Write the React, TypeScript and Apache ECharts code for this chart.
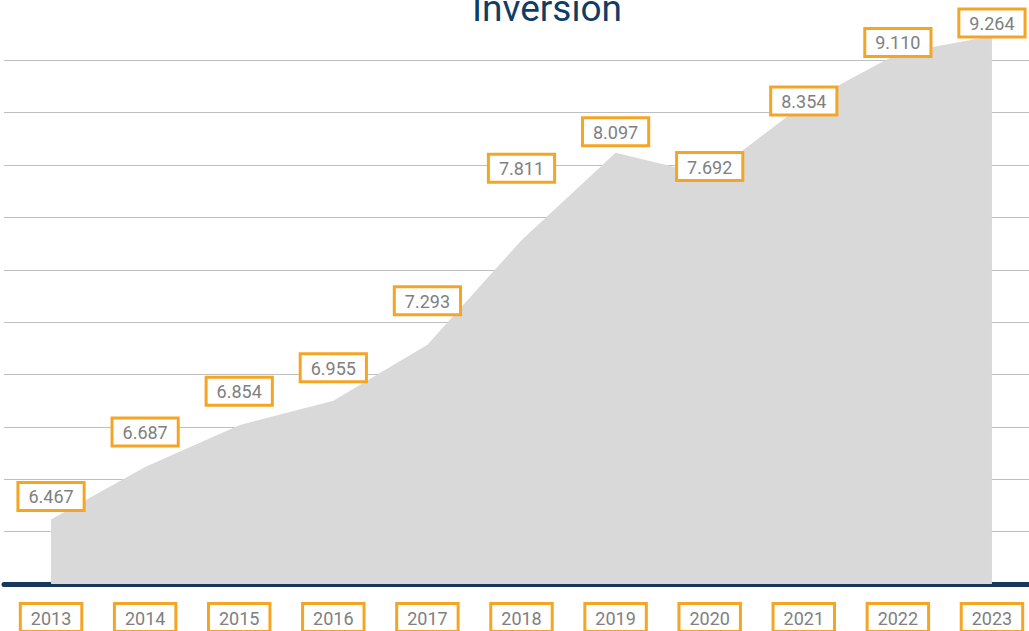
import React, { useEffect, useRef } from "react";
import * as echarts from "echarts";

const titleText = "Inversion";
const years = ["2013", "2014", "2015", "2016", "2017", "2018", "2019", "2020", "2021", "2022", "2023"];
// printed values
const values = [6.467, 6.687, 6.854, 6.955, 7.293, 7.811, 8.097, 7.692, 8.354, 9.11, 9.264];
// heights of the grey area as drawn in the picture (axis units)
const areaLevels = [6.47, 6.77, 7.01, 7.15, 7.47, 8.07, 8.57, 8.44, 8.85, 9.14, 9.24];
const yMin = 6.1;
const yMax = 9.4;
const yStep = 0.3;

// extra lift of each value box above its point (styling, px)
const labelLift = [0, 12, 11, 10, 21, 49, -2, -14, -20, -12, -10];

const fmt = (v: number) => v.toFixed(3);

export default function App() {
  const ref = useRef<HTMLDivElement>(null);
  useEffect(() => {
    document.body.style.margin = "0";
    document.body.style.overflow = "hidden";
    document.documentElement.style.overflow = "hidden";
    const chart = echarts.init(ref.current!, undefined, { renderer: "svg" });
    const boxLabel = {
      backgroundColor: "#ffffff",
      borderColor: "#f5a524",
      borderWidth: 3,
      padding: [4, 9, 3, 9],
      color: "#808080",
      fontSize: 18,
      fontFamily: "Roboto",
    };
    chart.setOption({
      animation: false,
      title: {
        text: titleText,
        left: 467,
        top: -15,
        textStyle: { fontSize: 37, fontWeight: "normal", color: "#0f3d66", fontFamily: "Roboto" },
      },
      grid: { left: 4, right: 6, top: 8, bottom: 47, containLabel: false, outerBoundsMode: "none" },
      xAxis: {
        type: "category",
        data: years,
        boundaryGap: true,
        axisLine: { lineStyle: { color: "#17375e", width: 5 } },
        axisTick: { show: false },
        axisLabel: { ...boxLabel, margin: 21 },
      },
      yAxis: {
        type: "value",
        min: yMin,
        max: yMax,
        interval: yStep,
        axisLabel: { show: false },
        axisLine: { show: false },
        axisTick: { show: false },
        splitLine: { show: true, showMaxLine: false, lineStyle: { color: "#bfbfbf", width: 1 } },
      },
      series: [
        {
          type: "line",
          data: areaLevels.map((v, i) => ({ value: v, label: { offset: [0, -labelLift[i]] } })),
          symbol: "circle",
          symbolSize: 1,
          showSymbol: true,
          itemStyle: { color: "rgba(0,0,0,0)" },
          lineStyle: { width: 0 },
          areaStyle: { color: "#d9d9d9", opacity: 1 },
          label: {
            show: true,
            position: "top",
            distance: 10,
            ...boxLabel,
            formatter: (p: any) => fmt(values[p.dataIndex]),
          },
        },
      ],
    });
    return () => chart.dispose();
  }, []);
  return <div ref={ref} style={{ width: 1045, height: 631 }} />;
}
